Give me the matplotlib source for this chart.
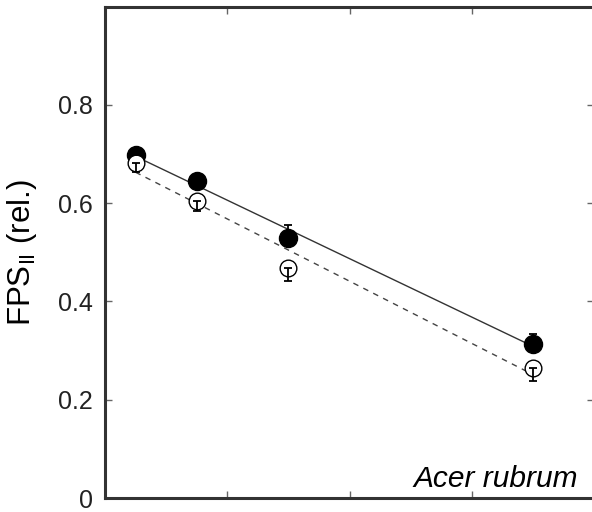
import numpy as np
import matplotlib.pyplot as plt

plt.rcParams['font.family'] = ['Liberation Sans', 'DejaVu Sans']
plt.rcParams['mathtext.default'] = 'regular'

# Data (x in arbitrary units, y = relative FPSII)
x_vals = np.array([2.5, 7.5, 15.0, 35.0])
closed_y = np.array([0.698, 0.645, 0.529, 0.314])
closed_err = np.array([0.012, 0.015, 0.027, 0.020])   # drawn upward
open_y = np.array([0.682, 0.604, 0.467, 0.265])
open_err = np.array([0.018, 0.020, 0.025, 0.027])     # drawn downward

ytick_vals = [0, 0.2, 0.4, 0.6, 0.8]
ytick_labels = ['0', '0.2', '0.4', '0.6', '0.8']
xtick_vals = [10, 20, 30]

fig = plt.figure(figsize=(5.92, 5.12), dpi=100)
ax = fig.add_axes([105 / 592, 1 - 498 / 512, 489 / 592, 491.5 / 512])

# linear fits over the data range
xs = np.array([x_vals.min(), x_vals.max()])
p_closed = np.polyfit(x_vals, closed_y, 1)
p_open = np.polyfit(x_vals, open_y, 1)
ax.plot(xs, np.polyval(p_closed, xs), '-', color='#333333', lw=1.0, zorder=2)
ax.plot(xs, np.polyval(p_open, xs), color='#444444', lw=1.0,
        dashes=(4, 4), zorder=2)

# markers
ax.plot(x_vals, closed_y, 'o', color='black', ms=13, zorder=3)
ax.plot(x_vals, open_y, 'o', mfc='white', mec='black', mew=1.0, ms=12,
        zorder=3)

# one-sided error bars on top (up for closed, down for open)
zeros = np.zeros_like(x_vals)
ax.errorbar(x_vals, closed_y, yerr=[zeros, closed_err], fmt='none',
            ecolor='black', elinewidth=1.3, capsize=3, capthick=1.3, zorder=4)
ax.errorbar(x_vals, open_y, yerr=[open_err, zeros], fmt='none',
            ecolor='black', elinewidth=1.3, capsize=3, capthick=1.3, zorder=4)

ax.set_xlim(0, 40)
ax.set_ylim(0, 1.0)
ax.set_xticks(xtick_vals)
ax.set_xticklabels([])
ax.set_yticks(ytick_vals)
ax.set_yticklabels(ytick_labels)

ax.tick_params(direction='in', length=5, width=1, color='#666666',
               top=True, right=True, labelsize=18, labelcolor='#222222',
               pad=9)

for s in ax.spines.values():
    s.set_linewidth(2.2)
    s.set_color('#333333')

ax.set_ylabel('FPS$_{II}$ (rel.)', fontsize=22.5, color='black')
ax.yaxis.set_label_coords(-0.135, 0.5)

ax.text(0.967, 0.022, 'Acer rubrum', transform=ax.transAxes,
        ha='right', va='baseline', fontsize=21.5, style='italic')

fig.savefig('out.png', dpi=100)
